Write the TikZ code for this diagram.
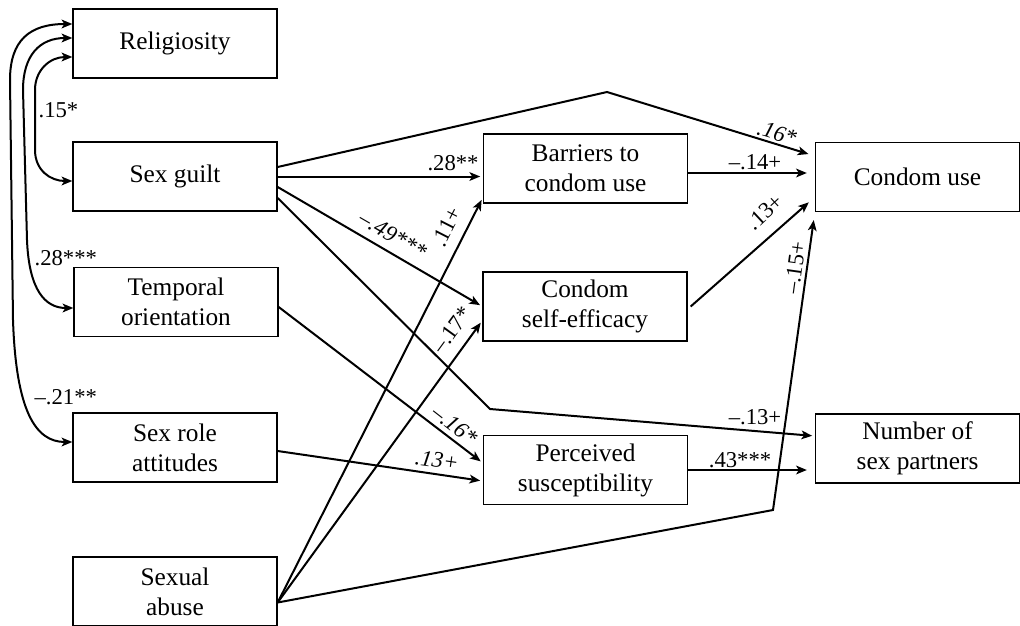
\documentclass[tikz,border=0pt]{standalone}
\usepackage{fontspec}
\setmainfont{Liberation Serif}
\usetikzlibrary{arrows.meta,calc}
\begin{document}
\begin{tikzpicture}[x=0.75pt,y=-0.75pt,
  box/.style={draw,line width=1pt,minimum width=153pt,minimum height=51.75pt,inner sep=0pt,align=center,font=\fontsize{19}{22.5}\selectfont},
  conn/.style={line width=1.5pt,-{Stealth[length=8pt,width=6.5pt,inset=2pt]}},
  dbl/.style={line width=1.5pt,{Stealth[length=8pt,width=6.5pt,inset=2pt]}-{Stealth[length=8pt,width=6.5pt,inset=2pt]}},
  lab/.style={font=\fontsize{17}{20}\selectfont,inner sep=1pt},
  ilab/.style={font=\fontsize{17}{20}\selectfont\itshape,inner sep=1pt}]
\useasboundingbox (0,0) rectangle (1020,625);
% boxes
\node[box] (rel) at (175,43.5) {Religiosity};
\node[box] (guilt) at (175,176.5) {Sex guilt};
\node[box] (temp) at (176,302) {Temporal\\orientation};
\node[box] (role) at (175,447.5) {Sex role\\attitudes};
\node[box] (abuse) at (175,591.5) {Sexual\\abuse};
\node[box] (barr) at (585.5,168.5) {Barriers to\\condom use};
\node[box] (eff) at (585,306.5) {Condom\\self-efficacy};
\node[box] (perc) at (585.5,470) {Perceived\\susceptibility};
\node[box] (use) at (917.5,177) {Condom use};
\node[box] (num) at (917.5,448.5) {Number of\\sex partners};
% bend points
\coordinate (pk) at (607,92);
\coordinate (bk) at (490,409);
\coordinate (ab) at (773,510);
% connectors
\draw[conn,shorten >=5pt] ($(guilt.east)+(0,-9.5)$) -- (pk) -- ($(use.west)+(0,-21)$);
\draw[conn,shorten >=2pt] (guilt.east) -- ($(barr.west)+(0,8)$);
\draw[conn,shorten >=2pt] ($(guilt.east)+(0,10.5)$) -- (eff.west);
\draw[conn,shorten >=2pt] ($(guilt.east)+(0,21.5)$) -- (bk) -- ($(num.west)+(0,-12.5)$);
\draw[conn,shorten >=2pt] ($(temp.east)+(0,5)$) -- ($(perc.west)+(0,-7)$);
\draw[conn,shorten >=2pt] ($(role.east)+(0,3.5)$) -- ($(perc.west)+(0,11)$);
\draw[conn,shorten >=2pt] ($(abuse.east)+(0,11)$) -- ($(barr.west)+(0,29)$);
\draw[conn,shorten >=2pt] ($(abuse.east)+(0,11)$) -- ($(eff.west)+(0,14)$);
\draw[conn,shorten >=6pt] ($(abuse.east)+(0,11)$) -- (ab) -- (use.south west);
\draw[conn,shorten >=6pt] ($(barr.east)+(0,4.5)$) -- ($(use.west)+(0,-4)$);
\draw[conn,shorten >=6pt] ($(eff.east)+(3,0)$) -- ($(use.west)+(0,20)$);
\draw[conn,shorten >=6pt] (perc.east) -- ($(num.west)+(0,21.5)$);
% correlations
\draw[dbl] ($(rel.west)+(0,13.5)$) .. controls (50,57) and (35,70) .. (35,90) -- (35,150) .. controls (35,170) and (50,181) .. ($(guilt.west)+(0,4.5)$);
\draw[dbl] ($(rel.west)+(0,-5.5)$) .. controls (40,38) and (23,55) .. (23,90) -- (27,240) .. controls (29,290) and (45,308) .. ($(temp.west)+(0,6)$);
\draw[dbl] ($(rel.west)+(0,-19.5)$) .. controls (30,24) and (10,40) .. (10,80) -- (13,320) .. controls (16,410) and (35,442) .. ($(role.west)+(0,-5.5)$);
% labels
\node[lab,anchor=west] (l1) at (37,110) {.15*};
\node[lab,anchor=west] (l2) at (33,258) {.28***};
\node[lab,anchor=west] (l3) at (33,397) {–.21**};
\node[lab] (l4) at (453,163) {.28**};
\node[ilab,rotate=-30] (l5) at (393,235) {–.49***};
\node[lab,rotate=63] (l6) at (447,227) {.11+};
\node[lab,rotate=54] (l7) at (452,330) {–.17*};
\node[ilab,rotate=-38] (l8) at (455,425) {–.16*};
\node[ilab,rotate=-8] (l9) at (437,460) {.13+};
\node[ilab,rotate=-17] (l10) at (777,133) {.16*};
\node[lab] (l11) at (755,162) {–.14+};
\node[lab,rotate=43] (l12) at (765,212) {.13+};
\node[lab,rotate=82] (l13) at (795,268) {–.15+};
\node[lab] (l14) at (755,417) {–.13+};
\node[lab] (l15) at (740,460) {.43***};
\end{tikzpicture}
\end{document}
